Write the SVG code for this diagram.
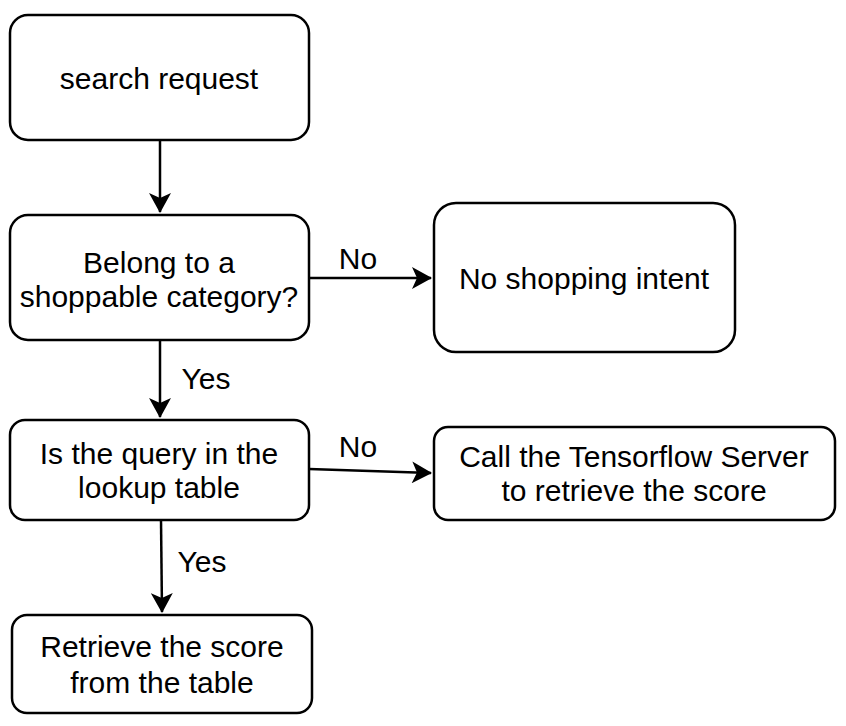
<svg xmlns="http://www.w3.org/2000/svg" width="846" height="726" viewBox="0 0 846 726">
<style>
.node rect{fill:#fff;stroke:#000;stroke-width:2.5}
text{font-family:"Liberation Sans",Arial,sans-serif;font-size:30px;fill:#000;text-anchor:middle}
.edge{fill:none;stroke:#000;stroke-width:2.5}
</style>
<defs>
<marker id="arr" markerUnits="userSpaceOnUse" markerWidth="22" markerHeight="22" viewBox="0 0 20 22" refX="19" refY="11" orient="auto">
<path d="M0,0 L20,11 L0,22 L5,11 Z" fill="#000"/>
</marker>
</defs>
<g id="connectors">
<path class="edge" d="M160,140 L160,212" marker-end="url(#arr)"/>
<path class="edge" d="M309,278 L431,278" marker-end="url(#arr)"/>
<path class="edge" d="M160,340 L160,417" marker-end="url(#arr)"/>
<path class="edge" d="M309,469 L431,473" marker-end="url(#arr)"/>
<path class="edge" d="M161,520 L162,612" marker-end="url(#arr)"/>
<text x="358" y="269">No</text>
<text x="206" y="389">Yes</text>
<text x="358" y="457">No</text>
<text x="202" y="572">Yes</text>
</g>
<g id="search-request" class="node">
<rect x="10" y="15" width="299" height="125" rx="18"/>
<text x="159" y="89">search request</text>
</g>
<g id="shoppable" class="node">
<rect x="10" y="215" width="299" height="125" rx="18"/>
<text x="159" y="273">Belong to a</text>
<text x="159" y="307">shoppable category?</text>
</g>
<g id="no-intent" class="node">
<rect x="434" y="203" width="301" height="149" rx="22"/>
<text x="584" y="289">No shopping intent</text>
</g>
<g id="lookup" class="node">
<rect x="10" y="420" width="299" height="100" rx="15"/>
<text x="159" y="464">Is the query in the</text>
<text x="159" y="498">lookup table</text>
</g>
<g id="tensorflow" class="node">
<rect x="434" y="427" width="401" height="93" rx="14"/>
<text x="634" y="467">Call the Tensorflow Server</text>
<text x="634" y="501">to retrieve the score</text>
</g>
<g id="retrieve" class="node">
<rect x="12" y="615" width="300" height="98" rx="15"/>
<text x="162" y="657">Retrieve the score</text>
<text x="162" y="693">from the table</text>
</g>
</svg>
